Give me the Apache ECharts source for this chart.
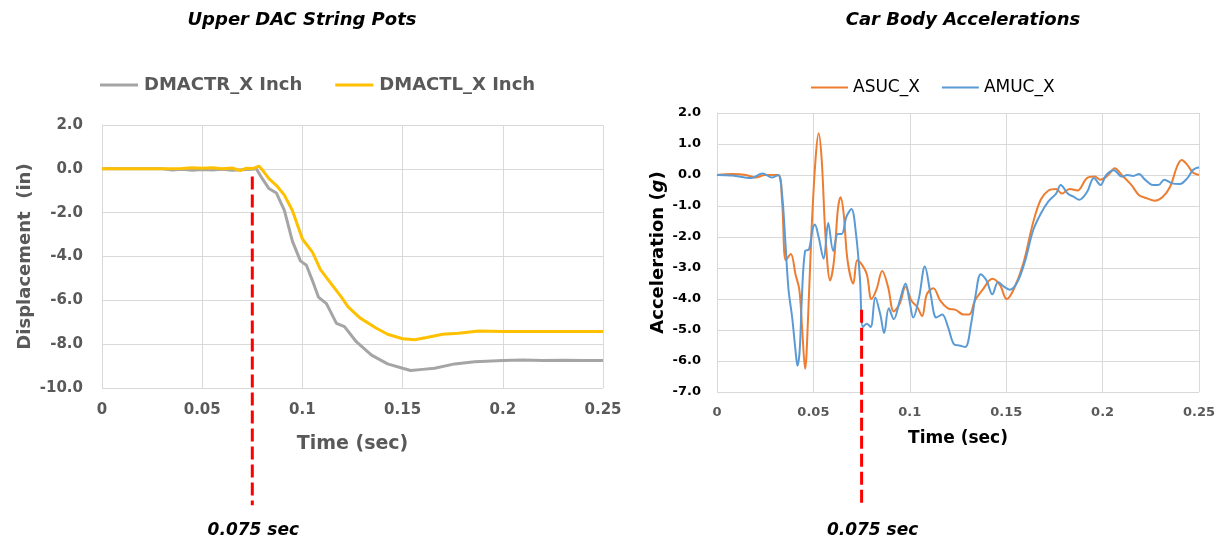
<!DOCTYPE html>
<html>
<head>
<meta charset="utf-8">
<script src="https://cdn.jsdelivr.net/npm/echarts@6/dist/echarts.min.js"></script>
<style>
html,body{margin:0;padding:0;background:#fff;}
#c{width:1226px;height:544px;}
</style>
</head>
<body>
<div id="c"></div>
<script>
// ---------- DATA ----------
const leftTitle = 'Upper DAC String Pots';
const rightTitle = 'Car Body Accelerations';
const markerTime = 0.075;
const markerLabel = '0.075 sec';

const leftYTicks = [-10, -8, -6, -4, -2, 0, 2];
const rightYTicks = [-7, -6, -5, -4, -3, -2, -1, 0, 1, 2];
const xTicks = [0, 0.05, 0.1, 0.15, 0.2, 0.25];

const dmactrRTime = [0, 0.03, 0.035, 0.04, 0.045, 0.05, 0.055, 0.06, 0.065, 0.07, 0.075, 0.077, 0.08, 0.0833, 0.087, 0.091, 0.095, 0.099, 0.102, 0.105, 0.108, 0.112, 0.117, 0.121, 0.127, 0.1345, 0.1425, 0.150, 0.154, 0.160, 0.166, 0.176, 0.186, 0.20, 0.21, 0.22, 0.23, 0.24, 0.25];
const dmactrRVal  = [0, 0, -0.05, -0.02, -0.06, -0.03, -0.05, -0.02, -0.06, -0.04, -0.02, 0.0, -0.45, -0.9, -1.1, -1.9, -3.3, -4.2, -4.4, -5.1, -5.85, -6.15, -7.05, -7.2, -7.9, -8.5, -8.9, -9.1, -9.2, -9.15, -9.1, -8.9, -8.8, -8.75, -8.72, -8.75, -8.73, -8.75, -8.75];

const dmactlLTime = [0, 0.03, 0.04, 0.045, 0.05, 0.055, 0.06, 0.065, 0.069, 0.072, 0.0755, 0.0784, 0.0805, 0.0833, 0.087, 0.091, 0.095, 0.100, 0.105, 0.109, 0.114, 0.119, 0.1228, 0.1287, 0.1365, 0.1425, 0.150, 0.156, 0.162, 0.170, 0.178, 0.188, 0.20, 0.22, 0.24, 0.25];
const dmactlLVal  = [0, 0, 0.02, 0.05, 0.03, 0.05, 0.0, 0.04, -0.08, 0.03, 0.02, 0.12, -0.1, -0.45, -0.75, -1.2, -1.9, -3.2, -3.8, -4.6, -5.2, -5.8, -6.3, -6.8, -7.25, -7.55, -7.75, -7.8, -7.7, -7.55, -7.5, -7.4, -7.42, -7.42, -7.42, -7.42];

const asucTime = [0, 0.008, 0.015, 0.02, 0.025, 0.0317, 0.0337, 0.0357, 0.0383, 0.0407, 0.0427, 0.0441, 0.0457, 0.0473, 0.0491, 0.0511, 0.0527, 0.0543, 0.0563, 0.0587, 0.0607, 0.0627, 0.0641, 0.0657, 0.0677, 0.0707, 0.0727, 0.0747, 0.0777, 0.0801, 0.0827, 0.0857, 0.0887, 0.0917, 0.0948, 0.0978, 0.1008, 0.1038, 0.1064, 0.1088, 0.1122, 0.1158, 0.1198, 0.1238, 0.1278, 0.1308, 0.1338, 0.1378, 0.1428, 0.1468, 0.1502, 0.1538, 0.1589, 0.1639, 0.1679, 0.1719, 0.1759, 0.1789, 0.1829, 0.1869, 0.1919, 0.1959, 0.1989, 0.2029, 0.2063, 0.2099, 0.2149, 0.2189, 0.2229, 0.2270, 0.2310, 0.2350, 0.2386, 0.2410, 0.2440, 0.2470, 0.25];
const asucVal  = [0, 0.03, 0.0, -0.08, 0.0, 0.0, -0.8, -2.75, -2.55, -3.2, -3.7, -4.9, -6.25, -4.5, -1.7, 0.5, 1.35, 0.5, -2.0, -3.4, -2.75, -1.1, -0.72, -1.25, -2.75, -3.5, -2.75, -2.85, -3.2, -4.0, -3.7, -3.1, -3.6, -4.4, -4.15, -3.6, -4.05, -4.25, -4.55, -3.85, -3.65, -4.05, -4.3, -4.35, -4.5, -4.5, -4.05, -3.7, -3.35, -3.55, -4.0, -3.7, -2.85, -1.55, -0.8, -0.5, -0.45, -0.6, -0.45, -0.5, -0.1, -0.05, -0.15, 0.0, 0.22, 0.0, -0.32, -0.65, -0.75, -0.83, -0.72, -0.38, 0.27, 0.48, 0.32, 0.07, 0.0];

const amucTime = [0, 0.008, 0.0176, 0.0236, 0.0286, 0.0317, 0.0337, 0.0353, 0.0371, 0.039, 0.0407, 0.0417, 0.0429, 0.0441, 0.0457, 0.0477, 0.0497, 0.0507, 0.0527, 0.0553, 0.0577, 0.0603, 0.0627, 0.0647, 0.0671, 0.0697, 0.0721, 0.0741, 0.0757, 0.0777, 0.0797, 0.0821, 0.0847, 0.0867, 0.0891, 0.0917, 0.0948, 0.0978, 0.0998, 0.1018, 0.1048, 0.1078, 0.1108, 0.1138, 0.1168, 0.1198, 0.1228, 0.1258, 0.1288, 0.1318, 0.1342, 0.1368, 0.1398, 0.1428, 0.1458, 0.1488, 0.1518, 0.1558, 0.1599, 0.1639, 0.1679, 0.1719, 0.1759, 0.1783, 0.1819, 0.1849, 0.1879, 0.1919, 0.1955, 0.1989, 0.2019, 0.2059, 0.2099, 0.2129, 0.2159, 0.2189, 0.2220, 0.2260, 0.2290, 0.2320, 0.2360, 0.2400, 0.2440, 0.2470, 0.25];
const amucVal  = [0, -0.02, -0.1, 0.05, -0.08, 0.0, -0.6, -2.0, -3.7, -4.6, -5.65, -6.15, -5.65, -3.85, -2.45, -2.4, -1.7, -1.6, -2.0, -2.7, -1.55, -2.45, -1.9, -1.9, -1.35, -1.1, -1.9, -3.3, -4.9, -4.8, -4.9, -3.95, -4.5, -5.1, -4.3, -4.65, -4.05, -3.5, -4.05, -4.6, -3.95, -2.95, -3.85, -4.6, -4.5, -4.9, -5.45, -5.5, -5.55, -4.8, -3.85, -3.2, -3.4, -3.85, -3.45, -3.6, -3.7, -3.45, -2.75, -1.8, -1.25, -0.85, -0.6, -0.32, -0.6, -0.7, -0.8, -0.55, -0.1, -0.32, 0.0, 0.15, -0.05, 0.0, -0.03, 0.03, -0.15, -0.32, -0.32, -0.15, -0.27, -0.29, -0.1, 0.17, 0.25];

// ---------- CHART ----------
const FONT = 'DejaVu Sans';
const zip = (t, v) => t.map((x, i) => [x, v[i]]);
const chart = echarts.init(document.getElementById('c'), null, {renderer: 'canvas'});

const gridLine = {show: true, lineStyle: {color: '#D9D9D9', width: 1}};

const option = {
  backgroundColor: '#ffffff',
  animation: false,
  title: [
    {text: leftTitle, left: 297, top: 6, textAlign: 'center',
     textStyle: {fontFamily: FONT, fontSize: 18, fontWeight: 'bold', fontStyle: 'italic', color: '#000'}},
    {text: rightTitle, left: 958, top: 6, textAlign: 'center',
     textStyle: {fontFamily: FONT, fontSize: 18, fontWeight: 'bold', fontStyle: 'italic', color: '#000'}}
  ],
  legend: [
    {left: 95, top: 71, itemWidth: 38, itemHeight: 14, itemGap: 33, icon: 'path://M0,6 L38,6 L38,9 L0,9 Z',
     data: ['DMACTR_X Inch', 'DMACTL_X Inch'],
     textStyle: {fontFamily: FONT, fontSize: 18, fontWeight: 'bold', color: '#595959', padding: [0, 0, 0, 1]}},
    {left: 806, top: 74, itemWidth: 37, itemHeight: 14, itemGap: 22, icon: 'path://M0,6 L37,6 L37,8 L0,8 Z',
     data: ['ASUC_X', 'AMUC_X'],
     textStyle: {fontFamily: FONT, fontSize: 17, color: '#000'}}
  ],
  grid: [
    {left: 102, right: 1226 - 603, top: 125, bottom: 544 - 388, containLabel: false},
    {left: 717, right: 1226 - 1199, top: 113, bottom: 544 - 392, containLabel: false}
  ],
  xAxis: [
    {type: 'value', gridIndex: 0, min: xTicks[0], max: xTicks[xTicks.length - 1], interval: 0.05,
     axisLine: {show: true, lineStyle: {color: '#D9D9D9'}}, axisTick: {show: false}, splitLine: gridLine,
     axisLabel: {fontFamily: FONT, fontSize: 15, fontWeight: 'bold', color: '#595959', margin: 15,
       formatter: v => String(+v.toFixed(3))},
     name: 'Time (sec)', nameLocation: 'middle', nameGap: 47,
     nameTextStyle: {fontFamily: FONT, fontSize: 19, fontWeight: 'bold', color: '#595959'}},
    {type: 'value', gridIndex: 1, min: xTicks[0], max: xTicks[xTicks.length - 1], interval: 0.05,
     axisLine: {show: true, lineStyle: {color: '#D9D9D9'}}, axisTick: {show: false}, splitLine: gridLine,
     axisLabel: {fontFamily: FONT, fontSize: 13, fontWeight: 'bold', color: '#595959', margin: 14,
       formatter: v => String(+v.toFixed(3))},
     name: 'Time (sec)', nameLocation: 'middle', nameGap: 38,
     nameTextStyle: {fontFamily: FONT, fontSize: 17, fontWeight: 'bold', color: '#000'}}
  ],
  yAxis: [
    {type: 'value', gridIndex: 0, min: leftYTicks[0], max: leftYTicks[leftYTicks.length - 1], interval: 2,
     axisLine: {show: true, lineStyle: {color: '#D9D9D9'}}, axisTick: {show: false}, splitLine: gridLine,
     axisLabel: {fontFamily: FONT, fontSize: 15, fontWeight: 'bold', color: '#595959', margin: 19,
       formatter: v => v.toFixed(1)},
     name: 'Displacement  (in)', nameLocation: 'middle', nameGap: 68,
     nameTextStyle: {fontFamily: FONT, fontSize: 18, fontWeight: 'bold', color: '#595959'}},
    {type: 'value', gridIndex: 1, min: rightYTicks[0], max: rightYTicks[rightYTicks.length - 1], interval: 1,
     axisLine: {show: true, lineStyle: {color: '#D9D9D9'}}, axisTick: {show: false}, splitLine: gridLine,
     axisLabel: {fontFamily: FONT, fontSize: 13, fontWeight: 'bold', color: '#000', margin: 16,
       formatter: v => v.toFixed(1)},
     name: '{n|Acceleration (}{i|g}{n|)}', nameLocation: 'middle', nameGap: 50,
     nameTextStyle: {fontFamily: FONT, fontSize: 18, fontWeight: 'bold', color: '#000',
       rich: {n: {fontFamily: FONT, fontSize: 18, fontWeight: 'bold', color: '#000'},
              i: {fontFamily: FONT, fontSize: 18, fontWeight: 'bold', fontStyle: 'italic', color: '#000'}}}}
  ],
  series: [
    {name: 'DMACTR_X Inch', type: 'line', xAxisIndex: 0, yAxisIndex: 0, data: zip(dmactrRTime, dmactrRVal),
     showSymbol: false, symbol: 'none', lineStyle: {color: '#A5A5A5', width: 3}, itemStyle: {color: '#A5A5A5'}},
    {name: 'DMACTL_X Inch', type: 'line', xAxisIndex: 0, yAxisIndex: 0, data: zip(dmactlLTime, dmactlLVal),
     showSymbol: false, symbol: 'none', lineStyle: {color: '#FFC000', width: 3}, itemStyle: {color: '#FFC000'}},
    {name: 'ASUC_X', type: 'line', xAxisIndex: 1, yAxisIndex: 1, data: zip(asucTime, asucVal), smooth: 0.35,
     showSymbol: false, symbol: 'none', lineStyle: {color: '#ED7D31', width: 2}, itemStyle: {color: '#ED7D31'}},
    {name: 'AMUC_X', type: 'line', xAxisIndex: 1, yAxisIndex: 1, data: zip(amucTime, amucVal), smooth: 0.35,
     showSymbol: false, symbol: 'none', lineStyle: {color: '#5B9BD5', width: 2}, itemStyle: {color: '#5B9BD5'}}
  ]
};
chart.setOption(option);

// Red dashed marker lines at t = 0.075 s, positioned through the axes' own scales
const lx = chart.convertToPixel({xAxisIndex: 0}, markerTime);
const ly0 = chart.convertToPixel({yAxisIndex: 0}, -0.35);
const ly1 = chart.convertToPixel({yAxisIndex: 0}, -15.35);
const rx = chart.convertToPixel({xAxisIndex: 1}, markerTime);
const ry0 = chart.convertToPixel({yAxisIndex: 1}, -4.35);
const ry1 = chart.convertToPixel({yAxisIndex: 1}, -10.65);

const dashStyle = {stroke: '#FF0000', lineWidth: 3, lineDash: [13, 5]};
const labelStyle = {fill: '#000', font: 'italic bold 17px "DejaVu Sans"', textAlign: 'center', textVerticalAlign: 'middle'};
chart.setOption({
  graphic: [
    {type: 'line', shape: {x1: lx, y1: ly0, x2: lx, y2: ly1}, style: dashStyle, z: 50},
    {type: 'line', shape: {x1: rx, y1: ry0, x2: rx, y2: ry1}, style: dashStyle, z: 50},
    {type: 'text', x: lx + 1, y: ly1 + 25, style: Object.assign({text: markerLabel}, labelStyle), z: 50},
    {type: 'text', x: rx + 11, y: ry1 + 25, style: Object.assign({text: markerLabel}, labelStyle), z: 50}
  ]
});
</script>
</body>
</html>
